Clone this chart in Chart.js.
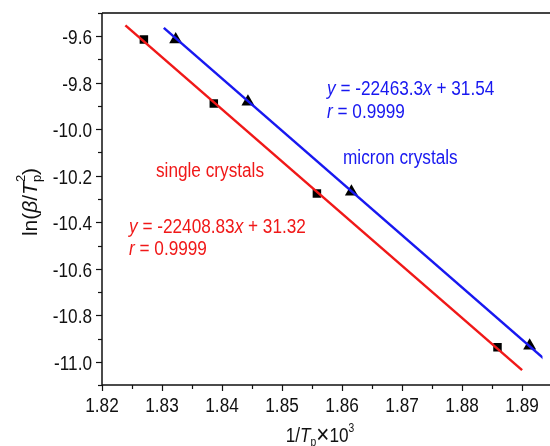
<!DOCTYPE html>
<html>
<head>
<meta charset="utf-8">
<script src="https://cdn.jsdelivr.net/npm/chart.js@4.4.1/dist/chart.umd.min.js"></script>
<style>
  html, body { margin: 0; padding: 0; background: #fff; }
  #wrap { width: 550px; height: 446px; }
</style>
</head>
<body>
<div id="wrap"><canvas id="c"></canvas></div>
<script>
// measured points (1/Tp x 10^3, ln(beta/Tp^2))
const singleX = [1.82698, 1.83863, 1.85581, 1.88590];
const singleY = [-9.614, -9.889, -10.276, -10.938];
const micronX = [1.83228, 1.84432, 1.86156, 1.89126];
const micronY = [-9.614, -9.882, -10.269, -10.931];

// fitted lines, endpoints
const singleFitX = [1.8239, 1.8900];
const singleFitY = [-9.553, -11.036];
const micronFitX = [1.8303, 1.8940];
const micronFitY = [-9.564, -10.995];

const xTickLabels = ['1.82', '1.83', '1.84', '1.85', '1.86', '1.87', '1.88', '1.89'];
const yTickLabels = ['-9.6', '-9.8', '-10.0', '-10.2', '-10.4', '-10.6', '-10.8', '-11.0'];

const X_MIN = 1.82, X_MAX = 1.8934, Y_MIN = -11.1, Y_MAX = -9.5;
const FONT = "'Liberation Sans', Arial, sans-serif";
const SX = 0.86; // the original lettering is condensed
const RED = '#f01818', BLUE = '#1818f0';

const pts = (xs, ys) => xs.map((x, i) => ({ x: x, y: ys[i] }));

// draws text made of pieces with their own style / offset, squeezed by sx
function richText(ctx, parts, x, y, sx) {
  sx = sx || SX;
  ctx.save();
  ctx.translate(x, y);
  ctx.scale(sx, 1);
  ctx.textAlign = 'left';
  let cx = 0, lastX = 0;
  parts.forEach(p => {
    const size = p.size || 20;
    ctx.font = (p.italic ? 'italic ' : '') + size + 'px ' + FONT;
    const start = p.stack ? lastX : cx;
    ctx.fillText(p.t, start, p.dy || 0);
    const w = ctx.measureText(p.t).width;
    if (!p.stack) { lastX = cx; cx += w; } else { cx = Math.max(cx, start + w); }
  });
  ctx.restore();
  return cx * sx;
}
function richWidth(ctx, parts, sx) {
  ctx.save();
  ctx.globalAlpha = 0;
  const w = richText(ctx, parts, 0, 0, sx);
  ctx.restore();
  return w;
}

const axesPlugin = {
  id: 'axesPlugin',
  afterDraw(chart) {
    const ctx = chart.ctx;
    const xs = chart.scales.x, ys = chart.scales.y;
    const a = chart.chartArea;
    ctx.save();

    // frame
    ctx.strokeStyle = '#444';
    ctx.lineWidth = 2;
    ctx.beginPath(); ctx.moveTo(a.left, a.top); ctx.lineTo(550, a.top); ctx.stroke();
    ctx.strokeStyle = '#111';
    ctx.lineWidth = 1.5;
    ctx.beginPath();
    ctx.moveTo(a.left, a.top); ctx.lineTo(a.left, a.bottom); ctx.lineTo(550, a.bottom);
    ctx.stroke();

    // ticks
    ctx.lineWidth = 1.2;
    for (let i = 0; i <= 16; i++) {
      const v = Y_MIN + i * 0.1;
      const py = Math.round(ys.getPixelForValue(v)) + 0.5;
      const len = i % 2 === 1 ? 6 : 4;
      ctx.beginPath(); ctx.moveTo(a.left, py); ctx.lineTo(a.left - len, py); ctx.stroke();
    }
    for (let i = 0; i <= 14; i++) {
      const v = X_MIN + i * 0.005;
      const px = Math.round(xs.getPixelForValue(v)) + 0.5;
      const len = i % 2 === 0 ? 6 : 4;
      ctx.beginPath(); ctx.moveTo(px, a.bottom); ctx.lineTo(px, a.bottom + len); ctx.stroke();
    }

    // tick labels
    ctx.fillStyle = '#111';
    ctx.textBaseline = 'alphabetic';
    xTickLabels.forEach(t => {
      const w = richWidth(ctx, [{ t: t }]);
      richText(ctx, [{ t: t }], xs.getPixelForValue(parseFloat(t)) - w / 2, 412);
    });
    yTickLabels.forEach(t => {
      const w = richWidth(ctx, [{ t: t }]);
      richText(ctx, [{ t: t }], 92 - w, ys.getPixelForValue(parseFloat(t)) + 8);
    });

    // axis titles
    const xTitle = [
      { t: '1/' }, { t: 'T', italic: true }, { t: 'p', size: 12, dy: 4 },
      { t: '\u00d7', size: 26, dy: 1 }, { t: '10' }, { t: '3', size: 12, dy: -10 }
    ];
    const xw = richWidth(ctx, xTitle);
    richText(ctx, xTitle, 320 - xw / 2, 442);

    const yTitle = [
      { t: 'ln(', size: 21 }, { t: '\u03b2', italic: true, size: 21 }, { t: '/', size: 21 },
      { t: 'T', italic: true, size: 21 }, { t: 'p', size: 13, dy: 4 },
      { t: '2', size: 13, dy: -12, stack: true }, { t: ')', size: 21 }
    ];
    const yw = richWidth(ctx, yTitle, 1);
    ctx.save();
    ctx.translate(37, 202);
    ctx.rotate(-Math.PI / 2);
    richText(ctx, yTitle, -yw / 2, 0, 1);
    ctx.restore();

    // annotations
    ctx.fillStyle = BLUE;
    richText(ctx, [{ t: 'y', italic: true }, { t: ' = -22463.3' }, { t: 'x', italic: true }, { t: ' + 31.54' }], 327, 95);
    richText(ctx, [{ t: 'r', italic: true }, { t: ' = 0.9999' }], 327, 118);
    richText(ctx, [{ t: 'micron crystals' }], 343, 164);

    ctx.fillStyle = RED;
    richText(ctx, [{ t: 'single crystals' }], 156, 177);
    richText(ctx, [{ t: 'y', italic: true }, { t: ' = -22408.83' }, { t: 'x', italic: true }, { t: ' + 31.32' }], 129, 233);
    richText(ctx, [{ t: 'r', italic: true }, { t: ' = 0.9999' }], 129, 255);

    ctx.restore();
  }
};

new Chart(document.getElementById('c'), {
  type: 'scatter',
  data: {
    datasets: [
      {
        label: 'single crystals fit', data: pts(singleFitX, singleFitY), showLine: true,
        borderColor: RED, borderWidth: 2.5, pointRadius: 0, order: 0
      },
      {
        label: 'micron crystals fit', data: pts(micronFitX, micronFitY), showLine: true,
        borderColor: BLUE, borderWidth: 2.5, pointRadius: 0, order: 0
      },
      {
        label: 'single crystals', data: pts(singleX, singleY), pointStyle: 'rect',
        pointRadius: 6, backgroundColor: '#000', borderWidth: 0, order: 1
      },
      {
        label: 'micron crystals', data: pts(micronX, micronY), pointStyle: 'triangle',
        pointRadius: 7.5, backgroundColor: '#000', borderWidth: 0, order: 1
      }
    ]
  },
  options: {
    responsive: true,
    maintainAspectRatio: false,
    animation: false,
    layout: { padding: { top: 13, right: 0, left: 0, bottom: 0 } },
    plugins: { legend: { display: false }, tooltip: { enabled: false } },
    scales: {
      x: {
        type: 'linear', min: X_MIN, max: X_MAX,
        grid: { display: false }, border: { display: false },
        ticks: { display: false },
        afterFit(s) { s.height = 61; }
      },
      y: {
        type: 'linear', min: Y_MIN, max: Y_MAX,
        grid: { display: false }, border: { display: false },
        ticks: { display: false },
        afterFit(s) { s.width = 102; }
      }
    }
  },
  plugins: [axesPlugin]
});
</script>
</body>
</html>
